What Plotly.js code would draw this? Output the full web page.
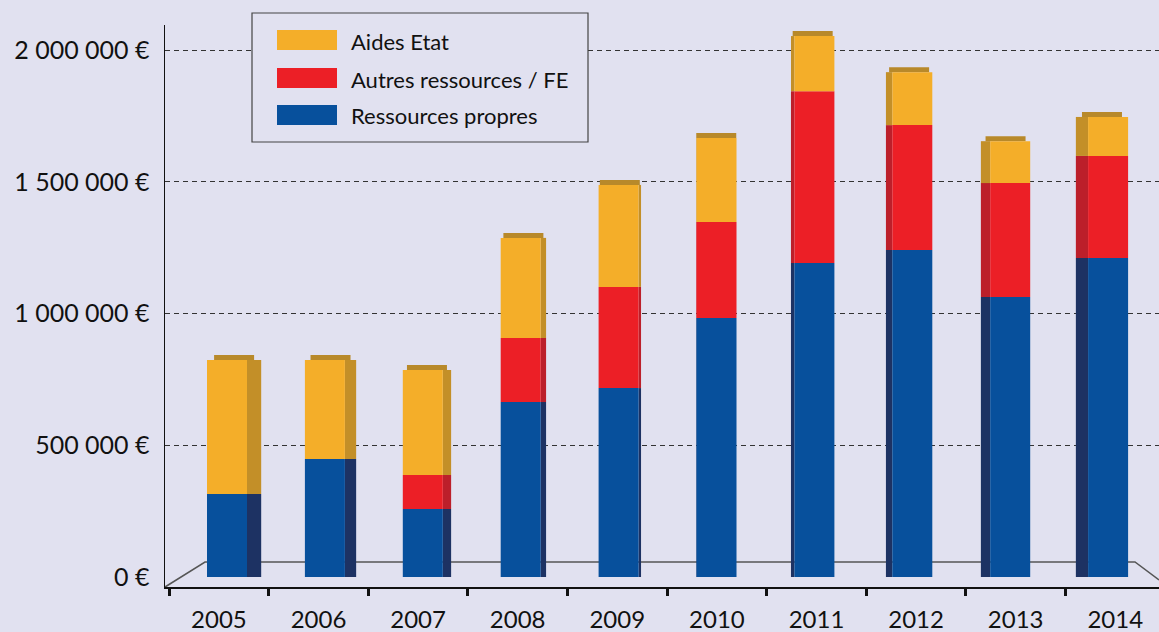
<!DOCTYPE html>
<html>
<head>
<meta charset="utf-8">
<script src="https://cdn.plot.ly/plotly-3.0.1.min.js"></script>
<style>
  html, body { margin: 0; padding: 0; background: #E1E1F0; }
  #chart { width: 1159px; height: 632px; }
</style>
</head>
<body>
<div id="chart"></div>
<script>
// ---- Data ----
const years = ['2005', '2006', '2007', '2008', '2009', '2010', '2011', '2012', '2013', '2014'];
const ressourcesPropres = [315000, 448000, 258000, 664000, 717000, 983000, 1192000, 1241000, 1063000, 1211000];
const autresRessources = [0, 0, 129000, 243000, 384000, 364000, 652000, 474000, 432000, 387000];
const aidesEtat = [509000, 376000, 399000, 380000, 387000, 319000, 209000, 201000, 159000, 148000];
const seriesNames = ['Aides Etat', 'Autres ressources / FE', 'Ressources propres'];
const tickValues = [0, 500000, 1000000, 1500000, 2000000];
const tickLabels = ['0 €', '500 000 €', '1 000 000 €', '1 500 000 €', '2 000 000 €'];

// ---- Styles ----
const colors = {
  aides: '#F4AE29', aidesSide: '#C38F28', top: '#B8892A',
  autres: '#EC1F26', autresSide: '#BC1F2A',
  propres: '#07509C', propresSide: '#1D3263'
};
const bg = '#E1E1F0';
const font = 'Lato, "Open Sans", sans-serif';

// plot area geometry (pixels)
const L = 165, T = 25, W = 1159 - 165, H = 587 - 25;
const px = x => (x - L) / W;
const py = y => (T + H - y) / H;
const xRange = [-0.541, 9.439];
const yRange = [-38000, 2095000];
const pxPerCat = W / (xRange[1] - xRange[0]);
const pxPerEuro = H / (yRange[1] - yRange[0]);

// pseudo-3D perspective geometry (pixels -> data units)
const idx = years.map((_, i) => i);
const faceW = 40 / pxPerCat;
const faceCenterPx = idx.map(i => 227 + 97.9 * i);
const catCenterPx = idx.map(i => L + (i - xRange[0]) * pxPerCat);
const vanishX = 700;
const faceOff = idx.map(i => (faceCenterPx[i] - catCenterPx[i]) / pxPerCat - faceW / 2);
const sideW = idx.map(i => Math.abs(faceCenterPx[i] - vanishX) * 0.03 / pxPerCat);
const sideDir = idx.map(i => faceCenterPx[i] > vanishX ? -1 : 1);
const sideOff = idx.map(i => sideDir[i] > 0 ? faceOff[i] + faceW : faceOff[i] - sideW[i]);
const topOff = idx.map(i => faceOff[i] + sideDir[i] * sideW[i] / 2);
const topH = idx.map(() => 5 / pxPerEuro);

// stacking bases computed from the data
const base1 = idx.map(() => 0);
const base2 = ressourcesPropres.slice();
const base3 = idx.map(i => ressourcesPropres[i] + autresRessources[i]);
const totals = idx.map(i => base3[i] + aidesEtat[i]);

const series = [
  { name: seriesNames[2], y: ressourcesPropres, base: base1, color: colors.propres, side: colors.propresSide },
  { name: seriesNames[1], y: autresRessources, base: base2, color: colors.autres, side: colors.autresSide },
  { name: seriesNames[0], y: aidesEtat, base: base3, color: colors.aides, side: colors.aidesSide }
];
const traces = [];
series.forEach(s => {
  traces.push({ type: 'bar', x: years, y: s.y, base: s.base, offset: sideOff, width: sideW,
    marker: { color: s.side, line: { width: 0 } }, hoverinfo: 'skip', showlegend: false });
});
traces.push({ type: 'bar', x: years, y: topH, base: totals, offset: topOff, width: faceW,
  marker: { color: colors.top, line: { width: 0 } }, hoverinfo: 'skip', showlegend: false });
series.forEach(s => {
  traces.push({ type: 'bar', name: s.name, x: years, y: s.y, base: s.base, offset: faceOff, width: faceW,
    marker: { color: s.color, line: { width: 0 } }, showlegend: false });
});

// custom legend (large swatches like the reference)
const legendItems = [
  { name: seriesNames[0], color: colors.aides, top: 30, mid: 41 },
  { name: seriesNames[1], color: colors.autres, top: 68, mid: 80 },
  { name: seriesNames[2], color: colors.propres, top: 105, mid: 116 }
];
const shapes = [
  // pseudo-3D floor
  { type: 'path', xref: 'paper', yref: 'paper', layer: 'below',
    path: `M ${px(165)} ${py(587)} L ${px(205)} ${py(562)} L ${px(1135)} ${py(562)} L ${px(1159)} ${py(580)}`,
    line: { color: '#555', width: 1.5 } },
  // legend box
  { type: 'rect', xref: 'paper', yref: 'paper', layer: 'above',
    x0: px(252), x1: px(588), y0: py(13), y1: py(142),
    line: { color: '#444', width: 1.2 }, fillcolor: bg }
];
const annotations = [];
legendItems.forEach(it => {
  shapes.push({ type: 'rect', xref: 'paper', yref: 'paper', layer: 'above',
    x0: px(277), x1: px(337), y0: py(it.top), y1: py(it.top + 20),
    line: { width: 0 }, fillcolor: it.color });
  annotations.push({ xref: 'paper', yref: 'paper', x: px(349), y: py(it.mid),
    xanchor: 'left', yanchor: 'middle', showarrow: false, text: it.name,
    font: { family: font, size: 22, color: '#111' } });
});

const layout = {
  width: 1159, height: 632,
  paper_bgcolor: bg, plot_bgcolor: bg,
  margin: { l: L, r: 0, t: T, b: 632 - 587 },
  barmode: 'overlay',
  showlegend: false,
  font: { family: font, color: '#111' },
  xaxis: {
    type: 'category',
    range: xRange,
    tickson: 'boundaries',
    ticks: 'outside', ticklen: 7, tickwidth: 3, tickcolor: '#111',
    ticklabelstandoff: 11,
    showline: true, linecolor: '#111', linewidth: 1.5,
    showgrid: false,
    tickfont: { family: font, size: 24, color: '#111' }
  },
  yaxis: {
    range: yRange,
    tickvals: tickValues, ticktext: tickLabels,
    ticks: '', ticklabelstandoff: 9,
    showline: true, linecolor: '#111', linewidth: 1.5,
    showgrid: true, gridcolor: '#333', gridwidth: 1, griddash: '5px,4px',
    zeroline: true, zerolinecolor: 'rgba(0,0,0,0)', zerolinewidth: 1,
    tickfont: { family: font, size: 25, color: '#111' }
  },
  shapes: shapes,
  annotations: annotations
};

Plotly.newPlot('chart', traces, layout, { displayModeBar: false, staticPlot: true });
</script>
</body>
</html>
